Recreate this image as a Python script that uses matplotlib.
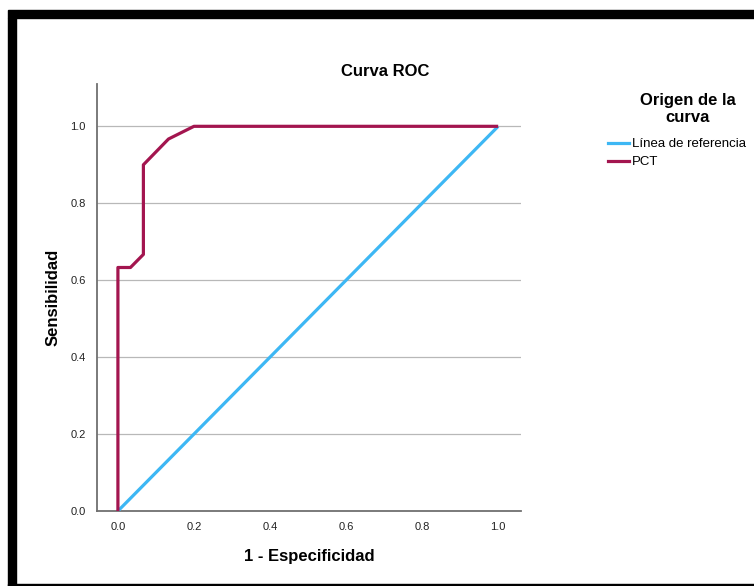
import matplotlib.pyplot as plt
from matplotlib.patches import Rectangle
from matplotlib.lines import Line2D

plt.rcParams['font.family'] = ['Liberation Sans', 'DejaVu Sans']

# data
ref_x = [0.0, 1.0]
ref_y = [0.0, 1.0]
pct_x = [0.0, 0.0, 0.033, 0.067, 0.067, 0.133, 0.2, 1.0]
pct_y = [0.0, 0.633, 0.633, 0.667, 0.9, 0.967, 1.0, 1.0]
ticks = [0.0, 0.2, 0.4, 0.6, 0.8, 1.0]
legend_labels = ['Línea de referencia', 'PCT']

blue = '#3DB7F4'
red = '#A3154F'

fig = plt.figure(figsize=(7.54, 5.86), dpi=100)
W, H = 754, 586

# black frame around the screenshot
fig.patches.append(Rectangle((8 / W, 1 - 18 / H), 1 - 8 / W, 8 / H,
                             transform=fig.transFigure, color='black', zorder=10))
fig.patches.append(Rectangle((8 / W, 0), 8 / W, 1 - 18 / H,
                             transform=fig.transFigure, color='black', zorder=10))
fig.patches.append(Rectangle((8 / W, 0), 1 - 8 / W, 2 / H,
                             transform=fig.transFigure, color='black', zorder=10))

ax = fig.add_axes([97 / W, 1 - 511 / H, (521 - 97) / W, (511 - 84) / H])
ax.plot(ref_x, ref_y, color=blue, linewidth=2.3, solid_capstyle='butt', zorder=3)
ax.plot(pct_x, pct_y, color=red, linewidth=2.3, solid_capstyle='butt', zorder=4)

ax.set_xlim(-0.055, 1.06)
ax.set_ylim(0, 1.11)
ax.set_xticks(ticks)
ax.set_yticks(ticks)
ax.set_xticklabels([f'{t:.1f}' for t in ticks])
ax.set_yticklabels([f'{t:.1f}' for t in ticks])
ax.tick_params(length=0, labelsize=8, colors='#222222', pad=8)
ax.yaxis.grid(True, color='#b8b8b8', linewidth=0.9)
ax.set_axisbelow(True)
for s in ['top', 'right']:
    ax.spines[s].set_visible(False)
for s in ['left', 'bottom']:
    ax.spines[s].set_color('#707070')
    ax.spines[s].set_linewidth(1.3)

ax.set_xlabel('1 - Especificidad', fontsize=12, fontweight='bold', labelpad=12)
ax.set_ylabel('Sensibilidad', fontsize=12, fontweight='bold', labelpad=7)
fig.text(385 / W, 1 - 72 / H, 'Curva ROC', ha='center', va='center',
         fontsize=12, fontweight='bold')

# legend: title as separate centred text, entries below
fig.text(688 / W, 1 - 109 / H, 'Origen de la\ncurva', ha='center', va='center',
         fontsize=12, fontweight='bold', linespacing=1.15)
handles = [Line2D([], [], color=blue, linewidth=2.3),
           Line2D([], [], color=red, linewidth=2.3)]
fig.legend(handles, legend_labels, loc='upper left',
           bbox_to_anchor=(608 / W, 1 - 138 / H), frameon=False, fontsize=9.5,
           handlelength=1.6, handletextpad=0.2, labelspacing=0.45,
           borderpad=0, borderaxespad=0)

fig.savefig('out.png', dpi=100)
